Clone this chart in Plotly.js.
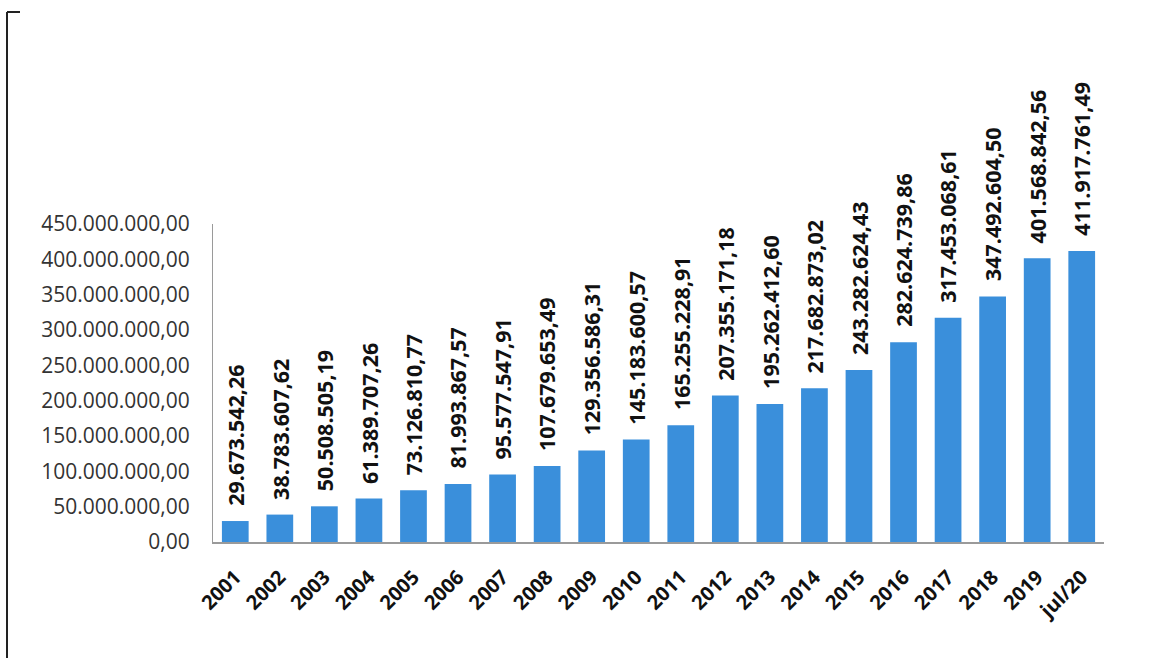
<!DOCTYPE html>
<html>
<head>
<meta charset="utf-8">
<script src="https://cdn.plot.ly/plotly-3.0.1.min.js"></script>
<style>
html,body{margin:0;padding:0;background:#fff;}
#chart{width:1173px;height:658px;}
</style>
</head>
<body>
<div id="chart"></div>
<script>
const categories = ["2001","2002","2003","2004","2005","2006","2007","2008","2009","2010","2011","2012","2013","2014","2015","2016","2017","2018","2019","jul/20"];
const values = [29673542.26, 38783607.62, 50508505.19, 61389707.26, 73126810.77, 81993867.57, 95577547.91, 107679653.49, 129356586.31, 145183600.57, 165255228.91, 207355171.18, 195262412.60, 217682873.02, 243282624.43, 282624739.86, 317453068.61, 347492604.50, 401568842.56, 411917761.49];
const yTickValues = [0, 50000000, 100000000, 150000000, 200000000, 250000000, 300000000, 350000000, 400000000, 450000000];

function fmtBR(v){
  const parts = v.toFixed(2).split(".");
  const intPart = parts[0].replace(/\B(?=(\d{3})+(?!\d))/g, ".");
  return intPart + "," + parts[1];
}

const W = 1173, H = 658;
const M = {l: 213, r: 69, t: 224, b: 116};
const pw = W - M.l - M.r, ph = H - M.t - M.b;
const px = x => (x - M.l) / pw;
const py = y => (H - M.b - y) / ph;

const trace = {
  type: "bar",
  x: categories,
  y: values,
  marker: {color: "#3a8fdb"},
  hoverinfo: "x+y"
};

const annotations = categories.map((c, i) => ({
  x: i, y: values[i], xref: "x", yref: "y",
  text: fmtBR(values[i]),
  textangle: -90,
  showarrow: false,
  xanchor: "center", yanchor: "bottom",
  yshift: 13,
  font: {family: "Open Sans, sans-serif", size: 21.5, color: "#111", weight: "bold"}
}));

const layout = {
  width: W, height: H,
  margin: {l: M.l, r: M.r, t: M.t, b: M.b, pad: 0},
  paper_bgcolor: "#ffffff",
  plot_bgcolor: "#ffffff",
  separators: ",.",
  showlegend: false,
  bargap: 0.4,
  font: {family: "Open Sans, sans-serif"},
  xaxis: {
    type: "category",
    range: [-0.5, categories.length - 0.5],
    tickangle: -45,
    showline: true, linecolor: "#9a9a9a", linewidth: 1.5,
    showgrid: false, ticks: "",
    ticklabelstandoff: 14,
    tickfont: {family: "Open Sans, sans-serif", size: 20, color: "#111", weight: "bold"}
  },
  yaxis: {
    range: [0, 450000000],
    tickmode: "array",
    tickvals: yTickValues,
    tickformat: ",.2f",
    showline: true, linecolor: "#9a9a9a", linewidth: 1,
    showgrid: false, zeroline: false, ticks: "",
    ticklabelstandoff: 18,
    tickfont: {family: "Open Sans, sans-serif", size: 21, color: "#333"}
  },
  annotations: annotations,
  shapes: [
    {type: "line", xref: "paper", yref: "paper", x0: px(7), x1: px(7), y0: py(12), y1: py(658), line: {color: "#222", width: 2}},
    {type: "line", xref: "paper", yref: "paper", x0: px(7), x1: px(20), y0: py(12), y1: py(12), line: {color: "#222", width: 2}}
  ]
};

Plotly.newPlot("chart", [trace], layout, {displayModeBar: false, staticPlot: true});
</script>
</body>
</html>
